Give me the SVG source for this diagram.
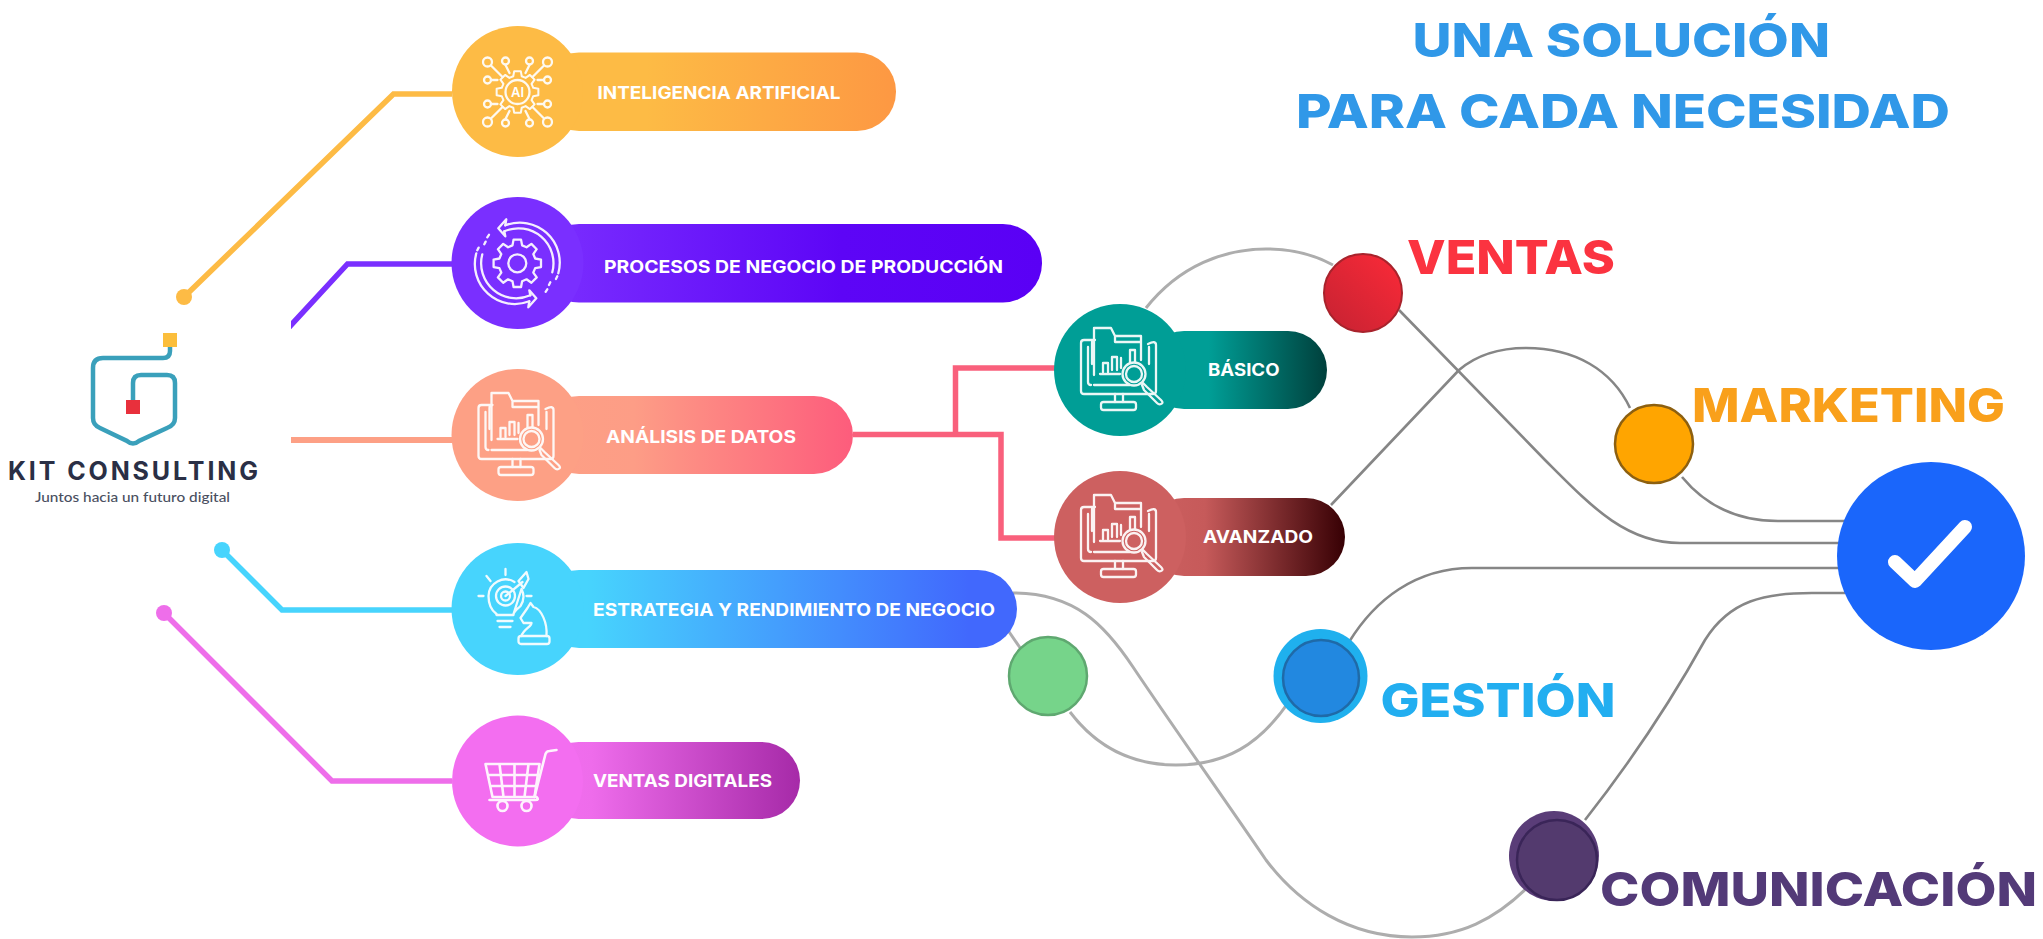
<svg xmlns="http://www.w3.org/2000/svg" width="2043" height="939" viewBox="0 0 2043 939">
<style>
.t{font-family:"Inter","Liberation Sans",sans-serif;font-weight:700;fill:#fff;font-size:17.5px}
.h{font-family:"Inter","Liberation Sans",sans-serif;font-weight:800;font-size:47px}
.i{fill:none;stroke:#fff;stroke-width:2.3;stroke-linecap:round;stroke-linejoin:round;opacity:.92}
.g{fill:none;stroke:#868686;stroke-width:2.600}
.g2{fill:none;stroke:#adadad;stroke-width:3}
.l{fill:none;stroke-width:5.500}
</style>
<defs>
<clipPath id="cut"><rect x="291" y="240" width="180" height="110"/></clipPath>
<linearGradient id="g1"><stop offset="0" stop-color="#fdbb45"/><stop offset=".3" stop-color="#fdbb45"/><stop offset="1" stop-color="#fd9843"/></linearGradient>
<linearGradient id="g2"><stop offset="0" stop-color="#7b2fff"/><stop offset=".6" stop-color="#5d05f6"/><stop offset="1" stop-color="#5a00f5"/></linearGradient>
<linearGradient id="g3"><stop offset="0" stop-color="#fda085"/><stop offset=".3" stop-color="#fd9d86"/><stop offset="1" stop-color="#fd5c7c"/></linearGradient>
<linearGradient id="g4"><stop offset="0" stop-color="#47d4fd"/><stop offset=".1" stop-color="#47d4fd"/><stop offset=".9" stop-color="#4168fd"/><stop offset="1" stop-color="#4168fd"/></linearGradient>
<linearGradient id="g5"><stop offset="0" stop-color="#f36ef0"/><stop offset=".2" stop-color="#ee6ceb"/><stop offset="1" stop-color="#a62aa8"/></linearGradient>
<linearGradient id="g6"><stop offset="0" stop-color="#009e96"/><stop offset=".35" stop-color="#009e96"/><stop offset="1" stop-color="#00403c"/></linearGradient>
<linearGradient id="g7"><stop offset="0" stop-color="#cd6060"/><stop offset=".3" stop-color="#c65a5a"/><stop offset="1" stop-color="#370004"/></linearGradient>
<linearGradient id="gr" x1="0" y1="1" x2="1" y2="0"><stop offset="0" stop-color="#c42232"/><stop offset="1" stop-color="#fc2a38"/></linearGradient>
<path id="gear" d="M17.9-4.8L23.7-3.75L23.7 3.75L17.9 4.8L16 9.25L19.4 14.1L14.1 19.4L9.25 16L4.8 17.9L3.75 23.7L-3.75 23.7L-4.8 17.9L-9.25 16L-14.1 19.4L-19.4 14.1L-16 9.25L-17.9 4.8L-23.7 3.75L-23.7-3.75L-17.9-4.8L-16-9.25L-19.4-14.1L-14.1-19.4L-9.25-16L-4.8-17.9L-3.75-23.7L3.75-23.7L4.8-17.9L9.25-16L14.1-19.4L19.4-14.1L16-9.25Z"/>
<g id="data" class="i">
<path d="M-28-6V-27Q-28-30-25-30H-27M28-26Q36-30 36-25V21Q36 24 33 24H-36Q-39 24-39 21V-27Q-39-30-36-30H-25"/>
<path d="M-26 15H10M-32-23V12Q-32 15-29 15M29-6V-23"/>
<path d="M-26 5V-42H-9L-5-34H21V-10M-5-34V-28H21"/>
<path d="M-17 2V-7H-12V2M-8 0V-13H-3V0M1-2V-12M10-7V-20H15V-8M-20 4H0"/>
<circle cx="14" cy="4" r="11.500"/><circle cx="14" cy="4" r="8"/>
<path d="M23 13L27 17L41 30Q44 33 41 34Q39 35 37 33L24 20L22 15"/>
<path d="M-5 24V32M3 24V32"/><rect x="-19" y="32" width="35" height="8" rx="2.500"/>
</g>
</defs>
<rect width="2043" height="939" fill="#fff"/>

<g id="connectors">
<path class="l" stroke="#fdbb45" d="M184 297L393.500 94H452"/>
<circle cx="184" cy="297" r="8" fill="#fdbb45"/>
<path class="l" stroke="#7a2fff" d="M280 337L347.500 264H452" clip-path="url(#cut)"/>
<path class="l" stroke="#fda085" d="M291 440H452" style="stroke-width:6"/>
<path class="l" stroke="#47d4fd" d="M222 550L282 610H452"/>
<circle cx="222" cy="550" r="8" fill="#47d4fd"/>
<path class="l" stroke="#ee6eea" d="M164 613L332 781H452"/>
<circle cx="164" cy="613" r="8" fill="#ee6eea"/>
<path class="l" stroke="#f9607c" d="M853 434.500H1001V538H1060M955.500 434.500V368H1060"/>
<path class="g2" d="M1146 308C1180 265 1225 249 1266 249C1295 249 1315 255 1333 265"/>
<path class="g" d="M1399 310L1545 460C1590 505 1625 543 1680 543H1840"/>
<path class="g" d="M1331 505L1459 370C1480 352 1505 348 1526 348C1575 348 1612 370 1630 408"/>
<path class="g" d="M1682 477C1705 505 1735 521 1778 521H1845"/>
<path class="g2" d="M1013 593C1075 593 1105 625 1133 667C1165 715 1232 810 1266 860C1300 905 1350 937 1412 937C1460 937 1495 920 1530 885"/>
<path class="g2" d="M1003 623L1025 655"/>
<path class="g2" d="M1070 712C1095 745 1130 765 1176 765C1225 765 1260 745 1290 700"/>
<path class="g" d="M1349 642C1375 600 1415 568 1472 568H1840"/>
<path class="g" d="M1585 820C1640 750 1680 685 1705 640C1730 600 1765 593 1812 593H1845"/>
</g>

<g id="logo">
<path d="M170 346V351Q170 358 163 358H103Q93 358 93 368V418Q93 425 100 428L127 441Q133 446 139 441L167 428Q175 425 175 418V383Q175 375 167 375H141Q133 375 133 383V402" fill="none" stroke="#3aa0bb" stroke-width="4.500"/>
<rect x="163" y="333" width="14" height="14" fill="#fbbe3c"/>
<rect x="126" y="400" width="14" height="14" fill="#e8303c"/>
<text x="8" y="480" font-family="Inter,'Liberation Sans',sans-serif" font-weight="700" font-size="25" fill="#2a2f45" textLength="250" lengthAdjust="spacing">KIT CONSULTING</text>
<text x="35" y="502" font-family="Lato,'Liberation Sans',sans-serif" font-weight="500" font-size="14" fill="#4a4f5f" textLength="195" lengthAdjust="spacingAndGlyphs">Juntos hacia un futuro digital</text>
</g>

<g id="node-ia">
<rect x="540" y="52.500" width="356" height="78.500" rx="39" fill="url(#g1)"/>
<circle cx="517.500" cy="91.500" r="65.500" fill="#fdbb45"/>
<g class="i" transform="translate(517.500 92)">
<use href="#gear" transform="scale(.88)"/>
<circle r="12"/>
<path d="M-26-26L-15-15M-12-27L-8-19M12-27L8-19M26-26L15-15M-26-12H-20M26-12H20M-26 12H-20M26 12H20M-26 26L-15 15M-12 27L-8 19M12 27L8 19M26 26L15 15"/>
<circle cx="-30" cy="-30" r="4.500"/><circle cx="-12" cy="-31" r="3.500"/><circle cx="12" cy="-31" r="3.500"/><circle cx="30" cy="-30" r="4.500"/><circle cx="-30" cy="-12" r="3.500"/><circle cx="30" cy="-12" r="3.500"/><circle cx="-30" cy="12" r="3.500"/><circle cx="30" cy="12" r="3.500"/><circle cx="-30" cy="30" r="4.500"/><circle cx="-12" cy="31" r="3.500"/><circle cx="12" cy="31" r="3.500"/><circle cx="30" cy="30" r="4.500"/>
</g>
<text x="517.500" y="96.500" text-anchor="middle" font-family="Inter,sans-serif" font-weight="600" font-size="13" fill="#fff">AI</text>
<text class="t" x="597.500" y="98.700" textLength="243" lengthAdjust="spacingAndGlyphs">INTELIGENCIA ARTIFICIAL</text>
</g>

<g id="node-procesos">
<rect x="540" y="224" width="502" height="78.500" rx="39" fill="url(#g2)"/>
<circle cx="517.500" cy="263" r="66" fill="#7a2fff"/>
<g class="i" transform="translate(517.300 263.300)">
<use href="#gear"/>
<circle r="9"/>
<path d="M-13-32A35 35 0 0 1 35 9M-12-38A40 40 0 0 1 41 10M13 32A35 35 0 0 1-35-9M12 38A40 40 0 0 1-41-10"/>
<path d="M-13-32L-12-27L-19-35L-11-44L-12-38M13 32L12 27L19 35L11 44L12 38"/>
<path d="M-40-13L-38-17M-33-19L-31-23M-30-26L-28-29M40 13L38 17M33 19L31 23M30 26L28 29" style="stroke-dasharray:3 3"/>
</g>
<text class="t" x="604" y="272.700" textLength="399" lengthAdjust="spacingAndGlyphs">PROCESOS DE NEGOCIO DE PRODUCCIÓN</text>
</g>

<g id="node-analisis">
<rect x="540" y="396" width="313" height="78" rx="39" fill="url(#g3)"/>
<circle cx="517.500" cy="435" r="66" fill="#fda085"/>
<use href="#data" x="517.500" y="435"/>
<text class="t" x="606" y="442.700" textLength="190" lengthAdjust="spacingAndGlyphs">ANÁLISIS DE DATOS</text>
</g>

<g id="node-estrategia">
<rect x="540" y="570" width="477" height="78" rx="39" fill="url(#g4)"/>
<circle cx="517.500" cy="609" r="66" fill="#47d4fd"/>
<g class="i" transform="translate(517.500 609)">
<path d="M-21 5C-28 0-29-8-29-13A17 17 0 0 1-3-27M4-20A17 17 0 0 1 3-3C0 0-3 2-4 5Z"/>
<circle cx="-12" cy="-13" r="9.500"/><circle cx="-12" cy="-13" r="4.500"/>
<path d="M-12-13L5-27M1-28L9-37L11-30L6-21Z"/>
<path d="M-21 6H-4M-20 12H-5M-18 18H-7M-12-40V-34M-31-33L-27-28M-39-13H-34M9-13H14"/>
<rect x="1" y="27" width="31" height="8" rx="2.500"/>
<path d="M4 27C6 20 14 18 14 14L6 14L3 9L10-1L13-6L16-2C24 0 30 14 29 27"/>
</g>
<text class="t" x="593" y="615.700" textLength="402" lengthAdjust="spacingAndGlyphs">ESTRATEGIA Y RENDIMIENTO DE NEGOCIO</text>
</g>

<g id="node-ventas-digitales">
<rect x="540" y="742" width="260" height="77" rx="38.500" fill="url(#g5)"/>
<circle cx="517.500" cy="781" r="65.500" fill="#f36ef0"/>
<g class="i" transform="translate(517.500 781)" style="stroke-width:2.600">
<path d="M-32-17H22L17 16H-25ZM-29-6H20M-27 5H18M-18-17L-14 16M-3-17V16M11-17L7 16"/>
<path d="M17 16L28-27Q29-30 32-30L39-31M-28 19H18Q22 19 19 16"/>
<circle cx="-15" cy="25" r="5"/><circle cx="9" cy="25" r="5"/>
</g>
<text class="t" x="593" y="786.700" textLength="179" lengthAdjust="spacingAndGlyphs">VENTAS DIGITALES</text>
</g>

<g id="node-basico">
<rect x="1145" y="331" width="182" height="78" rx="39" fill="url(#g6)"/>
<circle cx="1120" cy="370" r="66" fill="#009e96"/>
<use href="#data" x="1120" y="370"/>
<text class="t" x="1208" y="376" textLength="71.500" lengthAdjust="spacingAndGlyphs">BÁSICO</text>
</g>

<g id="node-avanzado">
<rect x="1145" y="498" width="200" height="78" rx="39" fill="url(#g7)"/>
<circle cx="1120" cy="537" r="66" fill="#cd6060"/>
<use href="#data" x="1120" y="537"/>
<text class="t" x="1203" y="542.700" textLength="110" lengthAdjust="spacingAndGlyphs">AVANZADO</text>
</g>

<g id="title">
<text class="h" x="1412.500" y="57" fill="#3098e8" textLength="417.500" lengthAdjust="spacingAndGlyphs">UNA SOLUCIÓN</text>
<text class="h" x="1296" y="128" fill="#3098e8" textLength="654" lengthAdjust="spacingAndGlyphs">PARA CADA NECESIDAD</text>
</g>

<g id="node-ventas">
<circle cx="1363" cy="293" r="39" fill="url(#gr)" stroke="#a8232c" stroke-width="2"/>
<text class="h" x="1407" y="274" fill="#fb3340" textLength="208" lengthAdjust="spacingAndGlyphs">VENTAS</text>
</g>
<g id="node-marketing">
<circle cx="1654" cy="444" r="39" fill="#ffa500" stroke="#8d6010" stroke-width="2.500"/>
<text class="h" x="1692" y="422" fill="#f9a01b" textLength="313" lengthAdjust="spacingAndGlyphs">MARKETING</text>
</g>
<g id="node-verde">
<circle cx="1048" cy="676" r="39" fill="#76d48a" stroke="#5fa870" stroke-width="2.500"/>
</g>
<g id="node-gestion">
<circle cx="1320.500" cy="676" r="47" fill="#1fb0ee"/>
<circle cx="1321" cy="678" r="38" fill="#2288e0" stroke="#1f6aa8" stroke-width="2.500"/>
<text class="h" x="1380.500" y="717" fill="#22aef0" textLength="235" lengthAdjust="spacingAndGlyphs">GESTIÓN</text>
</g>
<g id="node-comunicacion">
<circle cx="1554" cy="856" r="45" fill="#5a3d78"/>
<circle cx="1557" cy="860" r="40" fill="#533a6e" stroke="#3a2558" stroke-width="2.500"/>
<text class="h" x="1600" y="906" fill="#533a78" textLength="437" lengthAdjust="spacingAndGlyphs">COMUNICACIÓN</text>
</g>
<g id="node-check">
<circle cx="1931" cy="556" r="94" fill="#1a66fb"/>
<path d="M1895 562L1915 581L1965 527" fill="none" stroke="#fff" stroke-width="14" stroke-linecap="round" stroke-linejoin="round"/>
</g>
</svg>
